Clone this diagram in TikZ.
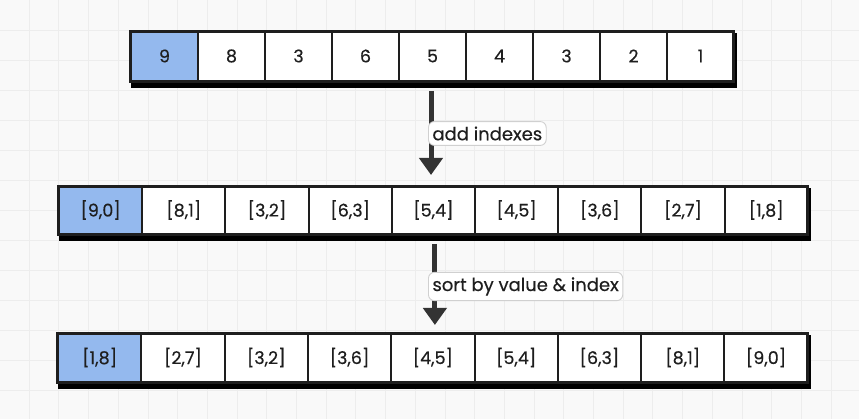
\documentclass[tikz,border=0pt]{standalone}
\usepackage{fontspec}
\setmainfont{Poppins}
\newfontfamily\cf{Poppins}[FakeBold=0.35]
\usetikzlibrary{arrows.meta,calc}
\definecolor{bgc}{HTML}{F9F9F9}
\definecolor{gridc}{HTML}{EDEDED}
\definecolor{hl}{HTML}{94B9EE}
\definecolor{ink}{HTML}{1E1E1E}
\definecolor{arr}{HTML}{333333}
\definecolor{lblborder}{HTML}{D0D0D0}
\tikzset{
  cellbox/.style={draw=ink, line width=2pt, minimum height=#1, inner sep=0pt, anchor=south west, text=ink, font=\cf\fontsize{17.5}{20}\selectfont},
  flowarrow/.style={draw=arr, line width=5pt, -{Triangle[length=17pt,width=23pt]}},
  lbl/.style={draw=lblborder, line width=0.9pt, fill=white, rounded corners=6pt, inner xsep=4pt, inner ysep=5pt, text=ink, font=\cf\fontsize{18}{21}\selectfont, anchor=west}
}
\begin{document}
\begin{tikzpicture}[x=1pt,y=1pt]
\useasboundingbox (0,0) rectangle (859,419);
\fill[bgc] (0,0) rectangle (859,419);
\foreach \i in {0,...,29} {
  \draw[gridc, line width=1pt] ({-0.5+29.7*\i},0) -- ({-0.5+29.7*\i},419);
}
\foreach \j in {0,...,14} {
  \draw[gridc, line width=1pt] (0,{388-30*\j}) -- (859,{388-30*\j});
}
% Row 1
\fill[black] (131,331) rectangle (737,386);
\foreach \v/\c [count=\k] in {9/hl,8/white,3/white,6/white,5/white,4/white,3/white,2/white,1/white} {
  \node[cellbox=50pt, minimum width=67pt, fill=\c] (r1c\k) at ({130+67*(\k-1)},337) {\v};
}
\draw[ink, line width=3pt] (130,337) rectangle (733,387);
% Row 2
\fill[black] (59,178) rectangle (811,231);
\foreach \v/\c [count=\k] in {{[9,0]}/hl,{[8,1]}/white,{[3,2]}/white,{[6,3]}/white,{[5,4]}/white,{[4,5]}/white,{[3,6]}/white,{[2,7]}/white,{[1,8]}/white} {
  \node[cellbox=48pt, minimum width=83.2pt, fill=\c] (r2c\k) at ({58+83.2*(\k-1)},184) {\v};
}
\draw[ink, line width=3pt] (58,184) rectangle (807,232);
% Row 3
\fill[black] (58,30) rectangle (811,84);
\foreach \v/\c [count=\k] in {{[1,8]}/hl,{[2,7]}/white,{[3,2]}/white,{[3,6]}/white,{[4,5]}/white,{[5,4]}/white,{[6,3]}/white,{[8,1]}/white,{[9,0]}/white} {
  \node[cellbox=49pt, minimum width=83.3pt, fill=\c] (r3c\k) at ({57+83.3*(\k-1)},36) {\v};
}
\draw[ink, line width=3pt] (57,36) rectangle (807,85);
% Arrows
\coordinate (a1s) at ($(r1c5.south)+(-1.5,-9)$);
\coordinate (a1e) at ($(a1s |- r2c5.north)+(0,10)$);
\draw[flowarrow] (a1s) -- (a1e);
\coordinate (a2s) at ($(r2c5.south)+(1.5,-9)$);
\coordinate (a2e) at ($(a2s |- r3c5.north)+(0,7)$);
\draw[flowarrow] (a2s) -- (a2e);
\node[lbl] (l1) at (428,285.5) {add indexes};
\node[lbl] (l2) at (428,132.5) {sort by value \& index};
\end{tikzpicture}
\end{document}
